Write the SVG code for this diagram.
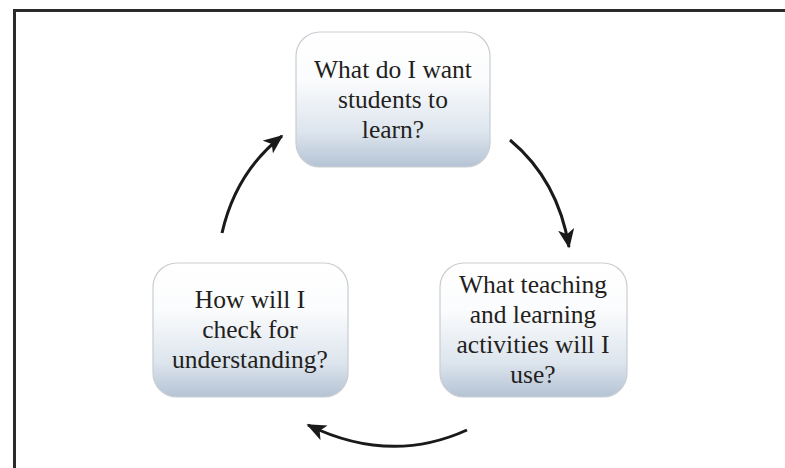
<svg xmlns="http://www.w3.org/2000/svg" width="785" height="468" viewBox="0 0 785 468">
<defs>
<linearGradient id="g" x1="0" y1="0" x2="0" y2="1">
<stop offset="0" stop-color="#ffffff"/>
<stop offset="0.35" stop-color="#fbfcfd"/>
<stop offset="0.75" stop-color="#dce4ed"/>
<stop offset="1" stop-color="#b4c3d4"/>
</linearGradient>
<marker id="ah" viewBox="0 0 12 10" refX="11" refY="5" markerWidth="6.5" markerHeight="5.5" orient="auto" markerUnits="strokeWidth">
<path d="M0,0 L12,5 L0,10 L3,5 Z" fill="#1a1a1a"/>
</marker>
</defs>
<style>
.box{fill:url(#g);stroke:#c9cdd2;stroke-width:1.2}
.t{font-family:"Liberation Serif","Times New Roman",serif;font-size:25.5px;fill:#231f20;text-anchor:middle}
.c{fill:none;stroke:#1a1a1a;stroke-width:3;marker-end:url(#ah)}
</style>
<rect width="785" height="468" fill="#ffffff"/>
<path d="M14.5,470 L14.5,10.5 L787,10.5" fill="none" stroke="#2b2b2b" stroke-width="3"/>
<g id="node-top">
<rect class="box" x="296" y="32" width="194" height="135" rx="24"/>
<text class="t" x="393" y="78">What do I want</text>
<text class="t" x="393" y="108">students to</text>
<text class="t" x="393" y="138">learn?</text>
</g>
<g id="node-right">
<rect class="box" x="440" y="263" width="187" height="134" rx="24"/>
<text class="t" x="533" y="293">What teaching</text>
<text class="t" x="533" y="323">and learning</text>
<text class="t" x="533" y="353">activities will I</text>
<text class="t" x="533" y="383">use?</text>
</g>
<g id="node-left">
<rect class="box" x="153" y="263" width="195" height="134" rx="24"/>
<text class="t" x="250" y="308">How will I</text>
<text class="t" x="250" y="338">check for</text>
<text class="t" x="250" y="368">understanding?</text>
</g>
<g id="connectors">
<path class="c" d="M510,140 Q558,180 569,247"/>
<path class="c" d="M467,430 Q390,465 308,425"/>
<path class="c" d="M222,233 Q236,172 282,136"/>
</g>
</svg>
